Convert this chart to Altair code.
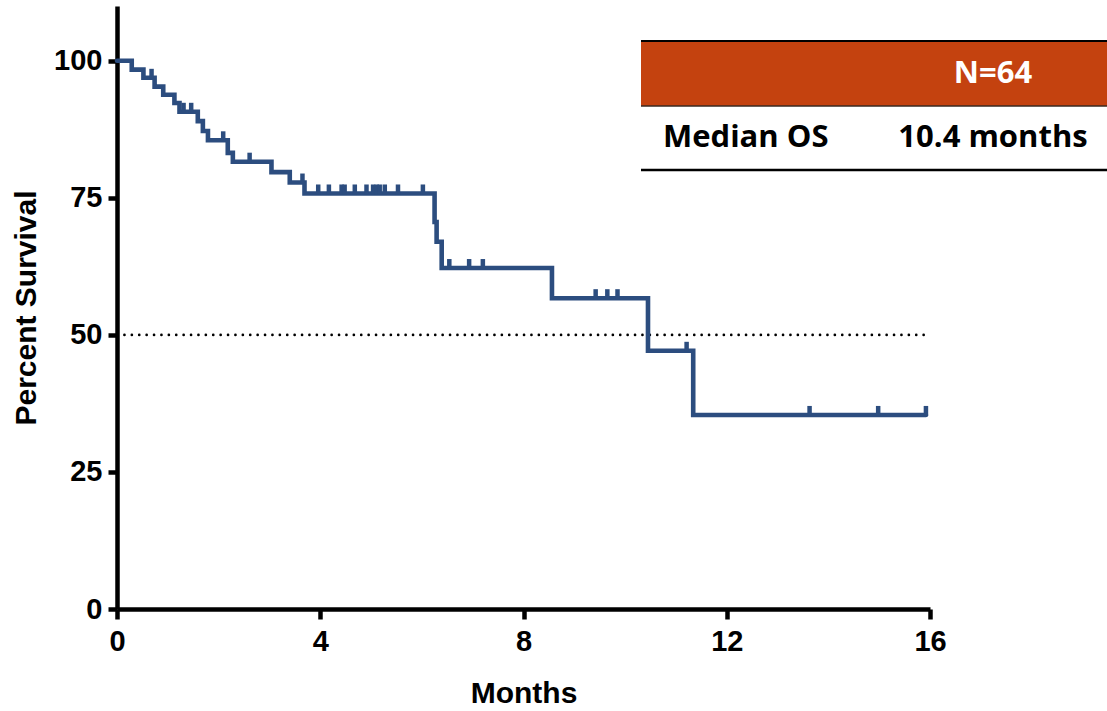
import altair as alt
import numpy as np
import pandas as pd

# Kaplan-Meier overall survival estimate (months, percent surviving)
step_months = [0, 0.29, 0.52, 0.74, 0.91, 1.13, 1.23, 1.59, 1.69, 1.79, 2.18,
               2.28, 3.04, 3.40, 3.69, 6.25, 6.29, 6.39, 8.56, 10.45, 11.34]
step_survival = [100, 98.4, 96.9, 95.3, 93.8, 92.3, 90.7, 89.0, 87.2, 85.5, 83.2,
                 81.6, 79.7, 77.8, 75.8, 70.6, 67.0, 62.2, 56.7, 47.1, 35.4]
last_followup = 15.92

# Censored observations (months)
censor_months = [0.68, 1.31, 1.46, 2.09, 2.61, 3.65, 3.96, 4.17, 4.42, 4.48,
                 4.68, 4.91, 5.04, 5.11, 5.17, 5.27, 5.53, 6.02, 6.54, 6.93,
                 7.20, 9.42, 9.65, 9.85, 11.21, 13.63, 14.98, 15.92]

median_line = 50
x_ticks = [0, 4, 8, 12, 16]
y_ticks = [0, 25, 50, 75, 100]

table_header = "N=64"
table_row_label = "Median OS"
table_row_value = "10.4 months"

BLUE = "#2C4D7F"
ORANGE = "#C4420F"
AXIS_FONT = "Liberation Sans"
TABLE_FONT = "Open Sans"

curve = pd.DataFrame({
    "month": step_months + [last_followup],
    "survival": step_survival + [step_survival[-1]],
})

# survival level in effect at each censoring time
idx = np.searchsorted(np.array(step_months), np.array(censor_months), side="right") - 1
censored = pd.DataFrame({
    "month": censor_months,
    "survival": [step_survival[i] for i in idx],
})

ref = pd.DataFrame({"month": [0], "month2": [last_followup], "survival": [median_line]})

x_scale = alt.Scale(domain=[0, 16], nice=False, zero=True)
y_scale = alt.Scale(domain=[0, 110], nice=False)

x_axis = alt.Axis(values=x_ticks, title="Months", grid=False, format="d",
                  labelFont=AXIS_FONT, labelFontSize=29, labelFontWeight="bold",
                  labelColor="black", labelPadding=8, labelFlush=False,
                  titleFont=AXIS_FONT, titleFontSize=30, titleFontWeight="bold",
                  titleColor="black", titlePadding=22,
                  domainColor="black", domainWidth=4.5,
                  tickColor="black", tickWidth=4.5, tickSize=10)
y_axis = alt.Axis(values=y_ticks, title="Percent Survival", grid=False, format="d",
                  labelFont=AXIS_FONT, labelFontSize=29, labelFontWeight="bold",
                  labelColor="black", labelPadding=6, labelFlush=False,
                  titleFont=AXIS_FONT, titleFontSize=30, titleFontWeight="bold",
                  titleColor="black", titlePadding=12,
                  domainColor="black", domainWidth=4.5,
                  tickColor="black", tickWidth=4.5, tickSize=9)

line = alt.Chart(curve).mark_line(
    interpolate="step-after", color=BLUE, strokeWidth=4.6, strokeCap="round"
).encode(
    x=alt.X("month:Q", scale=x_scale, axis=x_axis),
    y=alt.Y("survival:Q", scale=y_scale, axis=y_axis),
)

ticks = alt.Chart(censored).mark_tick(
    orient="vertical", color=BLUE, thickness=4.5, size=10, yOffset=-4, opacity=1
).encode(
    x=alt.X("month:Q", scale=x_scale),
    y=alt.Y("survival:Q", scale=y_scale),
)

median_rule = alt.Chart(ref).mark_rule(
    color="black", strokeWidth=2.6, strokeDash=[0.1, 7.3], strokeCap="round"
).encode(
    x=alt.X("month:Q", scale=x_scale),
    x2="month2:Q",
    y=alt.Y("survival:Q", scale=y_scale),
)

# summary table in the upper right
tbl = pd.DataFrame({"header": [table_header], "label": [table_row_label],
                    "value": [table_row_value]})
base = alt.Chart(tbl)

header_bar = base.mark_rect(color=ORANGE).encode(
    x=alt.value(524), x2=alt.value(990), y=alt.value(35), y2=alt.value(100))
top_line = base.mark_rule(color="black", strokeWidth=2).encode(
    x=alt.value(524), x2=alt.value(990), y=alt.value(35))
mid_line = base.mark_rule(color="#3a2a20", strokeWidth=1.5).encode(
    x=alt.value(524), x2=alt.value(990), y=alt.value(100))
bottom_line = base.mark_rule(color="black", strokeWidth=2.4).encode(
    x=alt.value(524), x2=alt.value(990), y=alt.value(164))

header_text = base.mark_text(
    font=TABLE_FONT, fontSize=31, fontWeight="bold", color="white",
    align="center", baseline="middle"
).encode(x=alt.value(876), y=alt.value(68), text="header:N")
label_text = base.mark_text(
    font=TABLE_FONT, fontSize=31, fontWeight="bold", color="black",
    align="left", baseline="middle"
).encode(x=alt.value(546), y=alt.value(132), text="label:N")
value_text = base.mark_text(
    font=TABLE_FONT, fontSize=31, fontWeight="bold", color="black",
    align="center", baseline="middle"
).encode(x=alt.value(876), y=alt.value(132), text="value:N")

chart = alt.layer(
    median_rule, line, ticks,
    header_bar, top_line, mid_line, bottom_line,
    header_text, label_text, value_text,
).properties(
    width=813, height=603,
    autosize=alt.AutoSizeParams(type="none"),
    padding={"left": 117, "top": 6, "right": 177, "bottom": 102},
    background="white",
).configure_view(stroke=None)

chart.save("out.html", embed_options={"renderer": "svg", "actions": False})
